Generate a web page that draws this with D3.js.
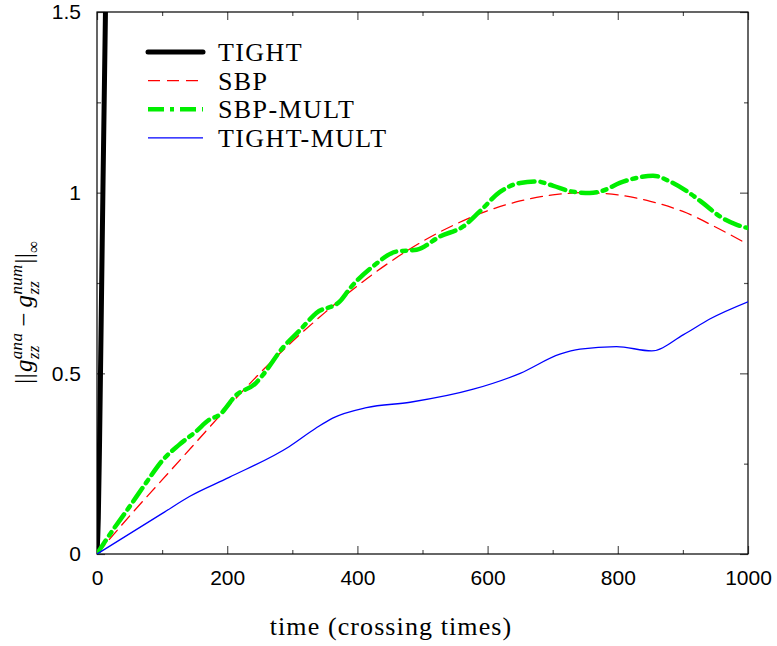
<!DOCTYPE html>
<html>
<head>
<meta charset="utf-8">
<script src="https://cdn.jsdelivr.net/npm/d3@7"></script>
<style>
  body { margin: 0; background: #fff; }
  .tick-label { font-family: "Liberation Sans", Arial, sans-serif; font-size: 21px; fill: #000; }
  .serif { font-family: "Liberation Serif", "Times New Roman", serif; fill: #000; }
</style>
</head>
<body>
<svg id="chart" width="777" height="646"></svg>
<script>
// data
var tightT = [0, 2, 4, 8, 13, 15];
var tightV = [0, 0.10, 0.32, 0.86, 1.50, 1.70];

var sbpT = [0, 50, 100, 150, 200, 250, 300, 350, 400, 450, 500, 550, 600, 650, 700, 750, 800, 850, 900, 950, 1000];
var sbpV = [0, 0.105, 0.205, 0.305, 0.405, 0.50, 0.588, 0.668, 0.742, 0.808, 0.865, 0.912, 0.950, 0.977, 0.994, 1.0, 0.994, 0.976, 0.948, 0.905, 0.857];

var multT = [0, 14, 50, 75, 101, 126, 152, 172, 188, 214, 244, 255, 285, 312, 337, 373, 389, 424, 460, 491, 527, 563, 588, 619, 650, 675, 701, 727, 757, 778, 803, 829, 854, 880, 906, 931, 957, 983, 1000];
var multV = [0, 0.039, 0.131, 0.196, 0.26, 0.302, 0.339, 0.371, 0.385, 0.44, 0.473, 0.496, 0.57, 0.62, 0.667, 0.699, 0.736, 0.796, 0.837, 0.842, 0.879, 0.907, 0.948, 1.002, 1.027, 1.031, 1.019, 1.004, 0.999, 1.006, 1.027, 1.041, 1.047, 1.031, 1.004, 0.971, 0.934, 0.911, 0.902];

var tmT = [0, 101, 142, 203, 295, 336, 362, 414, 481, 578, 650, 711, 742, 798, 852, 901, 942, 1000];
var tmV = [0, 0.113, 0.159, 0.212, 0.297, 0.348, 0.376, 0.405, 0.42, 0.456, 0.50, 0.553, 0.567, 0.574, 0.562, 0.607, 0.651, 0.698];

var xMajor = [0, 200, 400, 600, 800, 1000];
var xMinor = [100, 300, 500, 700, 900];
var yMajor = [0, 0.5, 1, 1.5];
var yMinor = [0.25, 0.75, 1.25];
var yTickText = ['0', '0.5', '1', '1.5'];

var names = ['TIGHT', 'SBP', 'SBP-MULT', 'TIGHT-MULT'];

var margin = {t: 12, r: 29, b: 92, l: 97};
var width = 777 - margin.l - margin.r,
    height = 646 - margin.t - margin.b;

var svg = d3.select('#chart');
var plot = svg.append('g').attr('transform', 'translate(' + margin.l + ',' + margin.t + ')');

var scaleX = d3.scaleLinear().domain([0, 1000]).range([0, width]);
var scaleY = d3.scaleLinear().domain([0, 1.5]).range([height, 0]);

svg.append('defs').append('clipPath').attr('id', 'clip')
    .append('rect').attr('width', width).attr('height', height);

// axes with inward ticks, mirrored on top and right
function tickStyle(g) {
    g.select('.domain').remove();
    g.selectAll('.tick line').attr('stroke', '#555').attr('stroke-width', 1.2);
}
plot.append('g').attr('transform', 'translate(0,' + height + ')')
    .call(d3.axisBottom(scaleX).tickValues(xMajor).tickSize(-8).tickPadding(16).tickFormat(d3.format('d')))
    .call(tickStyle)
    .selectAll('text').attr('class', 'tick-label').attr('font-family', null).attr('font-size', null);
plot.append('g').attr('transform', 'translate(0,' + height + ')')
    .call(d3.axisBottom(scaleX).tickValues(xMinor).tickSize(-4).tickFormat(''))
    .call(tickStyle);
plot.append('g')
    .call(d3.axisTop(scaleX).tickValues(xMajor).tickSize(-8).tickFormat(''))
    .call(tickStyle);
plot.append('g')
    .call(d3.axisTop(scaleX).tickValues(xMinor).tickSize(-4).tickFormat(''))
    .call(tickStyle);

plot.append('g')
    .call(d3.axisLeft(scaleY).tickValues(yMajor).tickSize(-8).tickPadding(16)
        .tickFormat(function(d, i) { return yTickText[i]; }))
    .call(tickStyle)
    .selectAll('text').attr('class', 'tick-label').attr('font-family', null).attr('font-size', null);
plot.append('g')
    .call(d3.axisLeft(scaleY).tickValues(yMinor).tickSize(-4).tickFormat(''))
    .call(tickStyle);
plot.append('g').attr('transform', 'translate(' + width + ',0)')
    .call(d3.axisRight(scaleY).tickValues(yMajor).tickSize(-8).tickFormat(''))
    .call(tickStyle);
plot.append('g').attr('transform', 'translate(' + width + ',0)')
    .call(d3.axisRight(scaleY).tickValues(yMinor).tickSize(-4).tickFormat(''))
    .call(tickStyle);

// frame
plot.append('rect').attr('width', width).attr('height', height)
    .attr('fill', 'none').attr('stroke', '#000').attr('stroke-width', 1.2);

// series
var series = [
    {t: tightT, v: tightV, color: '#000', w: 5, dash: null},
    {t: sbpT, v: sbpV, color: '#ff0000', w: 1.3, dash: '12,7'},
    {t: multT, v: multV, color: '#00ee00', w: 4.5, dash: '16,6,4,6'},
    {t: tmT, v: tmV, color: '#0000ff', w: 1.3, dash: null}
];

var line = d3.line()
    .x(function(d) { return scaleX(d[0]); })
    .y(function(d) { return scaleY(d[1]); })
    .curve(d3.curveMonotoneX);

var lines = plot.append('g').attr('clip-path', 'url(#clip)');
series.forEach(function(s, k) {
    var pts = s.t.map(function(t, i) { return [t, s.v[i]]; });
    lines.append('path')
        .datum(pts)
        .attr('fill', 'none')
        .attr('stroke', s.color)
        .attr('stroke-width', s.w)
        .attr('stroke-linecap', k === 0 ? 'butt' : 'round')
        .attr('stroke-dasharray', s.dash)
        .attr('d', line);
});

// legend
var legend = plot.append('g').attr('transform', 'translate(51,40)');
series.forEach(function(s, i) {
    var row = legend.append('g').attr('transform', 'translate(0,' + (i * 28.6) + ')');
    row.append('line').attr('x1', 0).attr('x2', 55).attr('y1', 0).attr('y2', 0)
        .attr('stroke', s.color).attr('stroke-width', s.w)
        .attr('stroke-linecap', i === 0 ? 'round' : 'butt')
        .attr('stroke-dasharray', s.dash);
    row.append('text').attr('class', 'serif').attr('x', 70).attr('y', 9)
        .attr('font-size', 26).attr('letter-spacing', 1.4).text(names[i]);
});

// x axis title
svg.append('text').attr('class', 'serif')
    .attr('x', 391).attr('y', 635)
    .attr('text-anchor', 'middle').attr('font-size', 26).attr('letter-spacing', 1.1)
    .text('time (crossing times)');

// y axis title: ||g_zz^ana - g_zz^num||_inf
var yt = svg.append('g').attr('transform', 'translate(32,312) rotate(-90)');
var pieces = yt.append('g');
var cx = 0;
function piece(txt, size, dy, italic) {
    var t = pieces.append('text').attr('class', 'serif')
        .attr('x', cx).attr('y', dy).attr('font-size', size)
        .attr('font-style', italic ? 'italic' : null).attr('letter-spacing', 0.3).text(txt);
    return t.node().getComputedTextLength();
}
function stack(sup, sub) {
    var a = piece(sup, 17, -10, true);
    var b = piece(sub, 17, 7, true);
    cx += Math.max(a, b) + 1;
}
cx += piece('||', 25, 0, false) + 1;
cx += piece('g', 25, 0, true);
stack('ana', 'zz');
cx += 5;
cx += piece('\u2212', 25, 0, false) + 5;
cx += piece('g', 25, 0, true);
stack('num', 'zz');
cx += piece('||', 25, 0, false);
cx += piece('\u221e', 17, 7, false);
pieces.attr('transform', 'translate(' + (-cx / 2) + ',0)');
</script>
</body>
</html>
